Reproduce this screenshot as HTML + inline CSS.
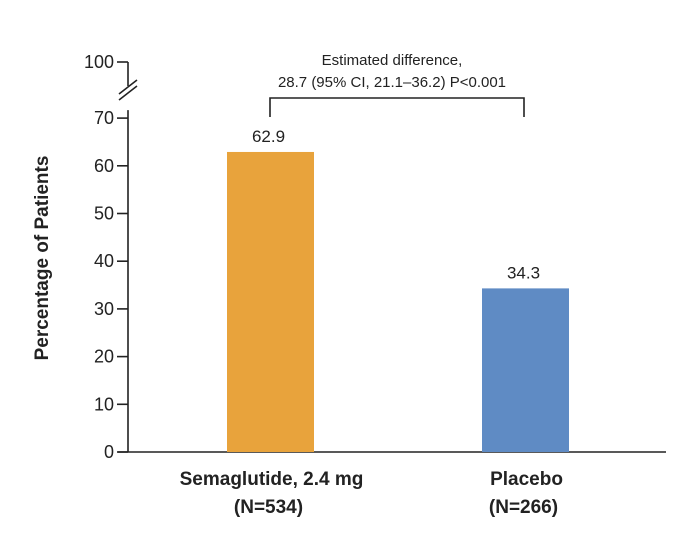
<!DOCTYPE html>
<html><head><meta charset="utf-8"><style>
body{margin:0;background:#fff;}
svg{display:block;font-family:"Liberation Sans",sans-serif;}
</style></head><body>
<svg id="chart" width="682" height="538">
</svg>
<script>
const categories=["Semaglutide, 2.4 mg","Placebo"];
const nLabels=["(N=534)","(N=266)"];
const values=[62.9,34.3];
const valueLabels=["62.9","34.3"];
const ticks=[0,10,20,30,40,50,60,70];
const colors=["#e8a33c","#5f8bc4"];
const svg=document.getElementById('chart');
const NS='http://www.w3.org/2000/svg';
const y0=452, pxPer=4.77, axisX=128;
const y=v=>y0-v*pxPer;
const barX=[227,482], barW=87;
function el(t,a,txt){const e=document.createElementNS(NS,t);for(const k in a)e.setAttribute(k,a[k]);if(txt!==undefined)e.textContent=txt;svg.appendChild(e);return e;}
let e;
e=el('line',{x1:axisX,y1:y0,x2:axisX,y2:y(70)-8,stroke:'#222','stroke-width':1.6});


e=el('line',{x1:axisX,y1:62,x2:axisX,y2:86,stroke:'#222','stroke-width':1.6});


e=el('line',{x1:117,y1:62,x2:axisX,y2:62,stroke:'#222','stroke-width':1.6});


e=el('text',{x:114,y:68,'text-anchor':'end','font-size':18,fill:'#222'},'100');


e=el('path',{d:'M119 94 L137 80 M119 100 L137 86',stroke:'#222','stroke-width':1.6,fill:'none'});


e=el('line',{x1:118,y1:y0,x2:666,y2:y0,stroke:'#222','stroke-width':1.6});


ticks.forEach(t=>{
 e=el('line',{x1:117,y1:y(t),x2:axisX,y2:y(t),stroke:'#222','stroke-width':1.6});
 
 
 e=el('text',{x:114,y:y(t)+6,'text-anchor':'end','font-size':18,fill:'#222'},String(t));
 
 
});
values.forEach((v,i)=>{
 e=el('rect',{x:barX[i],y:y(v),width:barW,height:v*pxPer,fill:colors[i]});
 
 
 e=el('text',{x:barX[i]+barW/2-2,y:y(v)-10,'text-anchor':'middle','font-size':17,fill:'#222'},valueLabels[i]);
 
 
 e=el('text',{x:barX[i]+barW/2+1,y:485,'text-anchor':'middle','font-size':19,'font-weight':'bold',fill:'#222'},categories[i]);
 
 
 e=el('text',{x:barX[i]+barW/2-2,y:513,'text-anchor':'middle','font-size':19,'font-weight':'bold',fill:'#222'},nLabels[i]);
 
 
});
e=el('path',{d:'M270 117 L270 98 L524 98 L524 117',stroke:'#222','stroke-width':1.6,fill:'none'});


e=el('text',{x:392,y:65,'text-anchor':'middle','font-size':15,fill:'#222'},'Estimated difference,');


e=el('text',{x:392,y:87,'text-anchor':'middle','font-size':15,fill:'#222'},'28.7 (95% CI, 21.1–36.2) P<0.001');


e=el('text',{x:48,y:258,'text-anchor':'middle','font-size':19,'font-weight':'bold',fill:'#222',transform:'rotate(-90 48 258)'},'Percentage of Patients');


</script>
</body></html>
